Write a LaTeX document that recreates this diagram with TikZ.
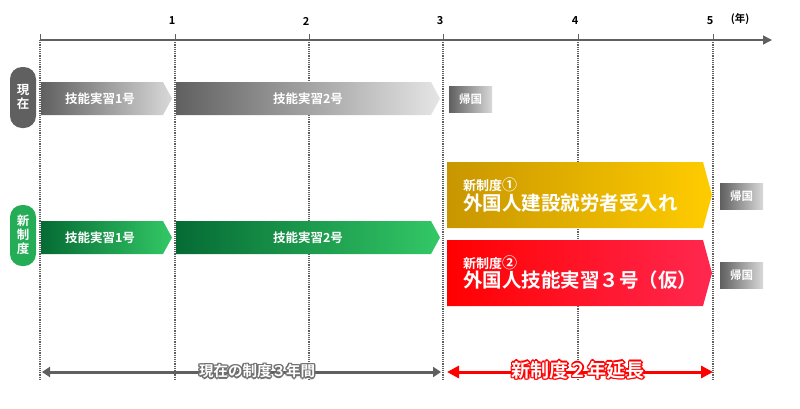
\documentclass[tikz,border=0pt]{standalone}
\usepackage{fontspec}
\setmainfont{Noto Sans CJK JP}[BoldFont={* Bold}]
\newfontfamily\jp{Noto Sans CJK JP Bold}
\usetikzlibrary{arrows.meta}
\definecolor{gd}{HTML}{606060}
\newcommand{\cdig}[1]{{\fontsize{15}{15}\selectfont #1}}
\begin{document}
\begin{tikzpicture}[x=1pt,y=-1pt,
  vline/.style={densely dotted,gd,line width=1.2pt},
  txt/.style={text=white,font=\jp\fontsize{12.5}{13}\selectfont},
  pill/.style={rounded corners=11pt,text=white,font=\jp\fontsize{12.5}{14}\selectfont,align=center,inner sep=0},
  home/.style={shade,shading angle=90,left color=gd,right color=gray!30,minimum width=43,minimum height=26,inner sep=0,text=white,font=\jp\fontsize{11.5}{12}\selectfont},
  glow/.style={font=\jp\fontsize{14.5}{16}\selectfont}]
\useasboundingbox (0,0) rectangle (800,408);
% axis
\draw[gd,line width=1.3pt,-{Triangle[length=9pt,width=9pt]}] (40,40) -- (772,40);
\foreach \x/\l in {40/,175/1,309/2,443/3,578/4,713/5}{
  \draw[gd,line width=1pt] (\x,34) -- (\x,40);
  \draw[vline] (\x,40) -- (\x,380);
  \node[font=\jp\fontsize{11}{12}\selectfont] (t\l) at (\x-3,21) {\l};}
\node[font=\jp\fontsize{10.5}{12}\selectfont] (nen) at (740,19) {(年)};
% row 1
\fill[gd,rounded corners=12pt] (10,67) rectangle (36,128);
\node[pill] (now) at (23,97) {現\\在};
\shade[left color=gd,right color=gray!30] (41,82) -- (163,82) -- (172,98.5) -- (163,115) -- (41,115) -- cycle;
\node[txt] (a1) at (100,98.5) {技能実習1号};
\shade[left color=gd,right color=gray!20] (176,82) -- (431,82) -- (440,98.5) -- (431,115) -- (176,115) -- cycle;
\node[txt] (a2) at (308,98.5) {技能実習2号};
\node[home,anchor=west] (h1) at (449,99) {帰国};
% row 2
\definecolor{gr1}{HTML}{056B34}\definecolor{gr2}{HTML}{33C866}
\fill[gr2!70!gr1,rounded corners=12pt] (10,205) rectangle (36,266);
\node[pill] (new) at (23,235) {新\\制\\度};
\shade[left color=gr1,right color=gr2] (41,221) -- (163,221) -- (172,237.5) -- (163,254) -- (41,254) -- cycle;
\node[txt] (b1) at (100,237.5) {技能実習1号};
\shade[left color=gr1,right color=gr2] (176,221) -- (431,221) -- (440,237.5) -- (431,254) -- (176,254) -- cycle;
\node[txt] (b2) at (308,237.5) {技能実習2号};
% yellow/red
\shade[left color={rgb,255:red,200;green,150;blue,0},right color={rgb,255:red,255;green,204;blue,0}] (447,162) -- (703,162) -- (712,195) -- (703,228) -- (447,228) -- cycle;
\node[text=white,anchor=west,align=left,inner sep=0] (y1) at (463,195) {{\jp\fontsize{13}{15}\selectfont 新制度\cdig{①}}\\[0pt]{\jp\fontsize{19.5}{21}\selectfont 外国人建設就労者受入れ}};
\shade[left color={rgb,255:red,255;green,0;blue,0},right color={rgb,255:red,255;green,40;blue,80}] (447,240) -- (703,240) -- (712,273) -- (703,306) -- (447,306) -- cycle;
\node[text=white,anchor=west,align=left,inner sep=0] (r1) at (463,273) {{\jp\fontsize{13}{15}\selectfont 新制度\cdig{②}}\\[0pt]{\jp\fontsize{19.5}{21}\selectfont 外国人技能実習３号（仮）}};
\node[home,anchor=west] (h2) at (720,196) {帰国};
\node[home,anchor=west] (h3) at (720,275) {帰国};
% bottom arrows
\coordinate (g1) at (42,372); \coordinate (g2) at (441,372);
\coordinate (r1a) at (447,372); \coordinate (r2a) at (713,372);
\draw[gd,line width=3pt,{Triangle[length=8pt,width=10pt]}-{Triangle[length=8pt,width=10pt]}] (g1) -- (g2);
\draw[red,line width=3pt,{Triangle[length=12pt,width=12pt]}-{Triangle[length=12pt,width=12pt]}] (r1a) -- (r2a);
\foreach \dx/\dy in {-1.5/0,1.5/0,0/-1.5,0/1.5,-1.1/-1.1,1.1/1.1,-1.1/1.1,1.1/-1.1}{
  \node[glow,text=gd!90] at (257+\dx,371+\dy) {現在の制度３年間};
  \node[glow,text=red,font=\jp\fontsize{19}{21}\selectfont] at (578+\dx,370+\dy) {新制度２年延長};}
\node[glow,text=white] (lg) at (257,371) {現在の制度３年間};
\node[glow,text=white,font=\jp\fontsize{19}{21}\selectfont] (lr) at (578,370) {新制度２年延長};
\end{tikzpicture}
\end{document}
